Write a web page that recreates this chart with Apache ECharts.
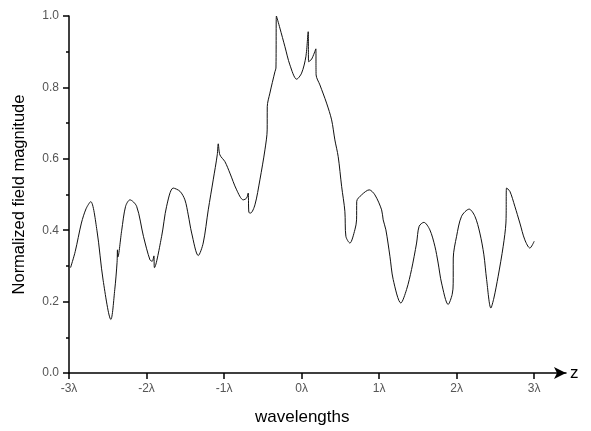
<!DOCTYPE html>
<html>
<head>
<meta charset="utf-8">
<script src="https://cdn.jsdelivr.net/npm/echarts@6/dist/echarts.min.js"></script>
<style>
    html, body { margin: 0; padding: 0; background: #fff; }
    #field_chart { width: 591px; height: 431px; }
</style>
</head>
<body>
<div id="field_chart"></div>
<script>
    // positions along z, in wavelengths
    var zPos = [
        -2.98, -2.92, -2.84, -2.78, -2.72, -2.64, -2.56, -2.46, -2.41, -2.38,
        -2.375, -2.37, -2.32, -2.27, -2.214, -2.128, -2.04, -1.956, -1.926, -1.905,
        -1.898, -1.805, -1.741, -1.656, -1.569, -1.505, -1.462, -1.418, -1.333, -1.269,
        -1.204, -1.14, -1.088, -1.075, -1.054, -0.989, -0.925, -0.838, -0.753, -0.709,
        -0.689, -0.68, -0.658, -0.602, -0.538, -0.473, -0.444, -0.443, -0.409, -0.344,
        -0.331, -0.325, -0.28, -0.215, -0.151, -0.064, 0.0, 0.055, 0.085, 0.09,
        0.129, 0.184, 0.187, 0.236, 0.322, 0.387, 0.429, 0.472, 0.516, 0.558,
        0.571, 0.623, 0.687, 0.709, 0.711, 0.774, 0.872, 0.945, 1.032, 1.052,
        1.087, 1.139, 1.181, 1.28, 1.354, 1.418, 1.483, 1.516, 1.577, 1.654,
        1.719, 1.761, 1.805, 1.89, 1.942, 1.955, 1.956, 1.999, 2.063, 2.161,
        2.235, 2.299, 2.351, 2.386, 2.441, 2.48, 2.535, 2.6, 2.635, 2.643,
        2.686, 2.75, 2.815, 2.879, 2.944, 3.0
    ];
    // normalized field magnitude
    var magnitude = [
        0.295, 0.34, 0.42, 0.46, 0.48, 0.40, 0.26, 0.15, 0.233, 0.31,
        0.345, 0.325, 0.40, 0.467, 0.485, 0.467, 0.383, 0.317, 0.313, 0.328,
        0.295, 0.383, 0.467, 0.518, 0.509, 0.485, 0.443, 0.392, 0.329, 0.364,
        0.457, 0.541, 0.611, 0.642, 0.611, 0.592, 0.56, 0.513, 0.485, 0.49,
        0.504, 0.45, 0.448, 0.471, 0.541, 0.625, 0.681, 0.746, 0.784, 0.844,
        0.854, 1.0, 0.966, 0.914, 0.863, 0.823, 0.84, 0.886, 0.956, 0.872,
        0.879, 0.908, 0.835, 0.807, 0.756, 0.709, 0.653, 0.606, 0.523, 0.453,
        0.383, 0.364, 0.401, 0.429, 0.481, 0.499, 0.513, 0.499, 0.457, 0.429,
        0.401, 0.327, 0.262, 0.196, 0.234, 0.29, 0.364, 0.411, 0.422, 0.401,
        0.355, 0.308, 0.252, 0.192, 0.22, 0.25, 0.322, 0.383, 0.439, 0.459,
        0.439, 0.392, 0.331, 0.262, 0.182, 0.21, 0.271, 0.355, 0.42, 0.518,
        0.509, 0.467, 0.42, 0.373, 0.35, 0.369
    ];
    var zTicks = [-3, -2, -1, 0, 1, 2, 3];

    var lineData = [];
    for (var i = 0; i < zPos.length; i++) {
        lineData.push([zPos[i], magnitude[i]]);
    }

    var chart = echarts.init(document.getElementById('field_chart'));
    var option = {
        animation: false,
        backgroundColor: '#fff',
        textStyle: { fontFamily: 'Liberation Sans, Arial, sans-serif' },
        grid: { left: 69, right: 25, top: 16, bottom: 58 },
        graphic: [{
            type: 'text',
            left: 255,
            top: 409,
            style: { text: 'wavelengths', fontSize: 17, fill: '#000', fontFamily: 'Liberation Sans, Arial, sans-serif' }
        }],
        xAxis: {
            type: 'value',
            min: -3,
            max: 3.41,
            name: 'z',
            nameLocation: 'end',
            nameGap: 4,
            nameTextStyle: { fontSize: 17, color: '#000' },
            splitLine: { show: false },
            axisLine: {
                onZero: false,
                lineStyle: { color: '#000', width: 1.5 },
                symbol: ['none', 'arrow'],
                symbolSize: [9, 12]
            },
            axisTick: { length: 6, lineStyle: { color: '#000', width: 1.5 }, customValues: zTicks },
            axisLabel: {
                customValues: zTicks,
                color: '#555',
                fontSize: 12,
                margin: 10,
                formatter: function (v) { return v + 'λ'; }
            }
        },
        yAxis: {
            type: 'value',
            min: 0,
            max: 1,
            interval: 0.2,
            name: 'Normalized field magnitude',
            nameLocation: 'middle',
            nameGap: 41,
            nameTextStyle: { fontSize: 16.5, color: '#000' },
            splitLine: { show: false },
            axisLine: { show: true, onZero: false, lineStyle: { color: '#000', width: 1.5 } },
            axisTick: { show: true, length: 6, lineStyle: { color: '#000', width: 1.5 } },
            minorTick: { show: true, splitNumber: 2, length: 3, lineStyle: { color: '#000', width: 1.5 } },
            axisLabel: {
                color: '#555',
                fontSize: 12,
                margin: 10,
                formatter: function (v) { return v.toFixed(1); }
            }
        },
        series: [{
            type: 'line',
            data: lineData,
            showSymbol: false,
            smooth: 0.3,
            lineStyle: { color: '#111', width: 1 }
        }]
    };
    chart.setOption(option);

    window.addEventListener('resize', function () {
        chart.resize();
    });
</script>
</body>
</html>
